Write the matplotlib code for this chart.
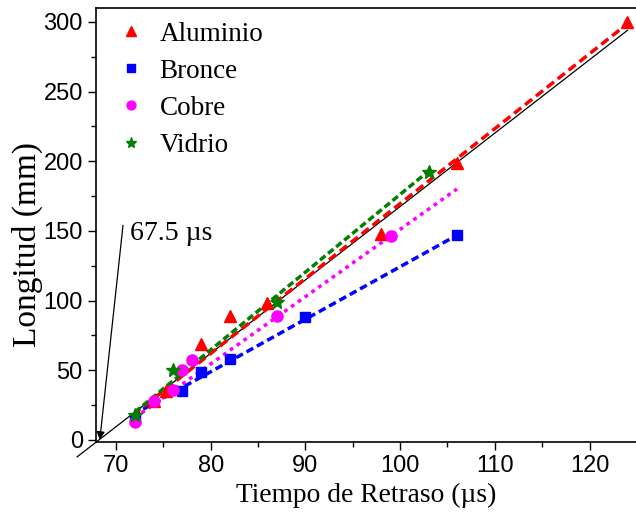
import matplotlib
matplotlib.use("Agg")
import matplotlib.pyplot as plt
import numpy as np
from matplotlib.ticker import MultipleLocator

# Data
alu_x = [74, 75.3, 79, 82, 86, 98, 106, 124]
alu_y = [28, 35, 69, 89, 98, 148, 199, 300]
bro_x = [72, 77, 79, 82, 90, 106]
bro_y = [15, 35, 49, 58, 88, 147]
cob_x = [72, 74, 76, 77, 78, 87, 99]
cob_y = [13, 28, 36, 50, 57, 89, 146]
vid_x = [72, 76, 87, 103]
vid_y = [18, 50, 99, 192]

# Linear fits: slope, intercept, x range
fit_alu = (5.38, -368.4, 71.8, 124.0)
fit_bro = (3.77, -252.7, 71.8, 106.0)
fit_cob = (4.83, -331.9, 72.0, 106.0)
fit_vid = (5.58, -381.8, 72.0, 103.0)
ref_line = (5.27, -359.5, 65.9, 124.0)

series_names = ["Aluminio", "Bronce", "Cobre", "Vidrio"]
xticks = [70, 80, 90, 100, 110, 120]
yticks = [0, 50, 100, 150, 200, 250, 300]

fig = plt.figure(figsize=(6.36, 5.16), dpi=100)
ax = fig.add_axes([96/636, 74/516, 1 - 96/636, (442-8)/516])
ax.set_xlim(67.9, 124.9)
ax.set_ylim(-1.5, 310)

def fitline(p, **kw):
    m, b, x0, x1 = p
    xs = np.array([x0, x1])
    ax.plot(xs, m*xs + b, **kw)

# reference solid black line (extends outside axes)
fitline(ref_line, color="black", lw=0.9, clip_on=False, zorder=2)
fitline(fit_bro, color="#0000ff", lw=2.5, ls=(0, (2.2, 1.2)), zorder=3)
fitline(fit_cob, color="#ff00ff", lw=2.5, ls=(0, (1.1, 1.3)), zorder=3)
fitline(fit_alu, color="#ff0000", lw=2.5, ls=(0, (2.6, 1.4)), zorder=3)
fitline(fit_vid, color="#007f00", lw=2.5, ls=(0, (2.0, 1.0)), zorder=3)

ax.plot(alu_x, alu_y, ls="none", marker="^", color="#ff0000", ms=9, label=series_names[0], zorder=4, clip_on=False)
ax.plot(bro_x, bro_y, ls="none", marker="s", color="#0000ff", ms=7, label=series_names[1], zorder=4)
ax.plot(cob_x, cob_y, ls="none", marker="o", color="#ff00ff", ms=8, label=series_names[2], zorder=4)
ax.plot(vid_x, vid_y, ls="none", marker="*", color="#007f00", ms=10, label=series_names[3], zorder=4)

# annotation
ax.annotate("", xy=(68.3, 0), xytext=(70.75, 154),
            arrowprops=dict(arrowstyle="-|>", color="black", lw=0.9, mutation_scale=12,
                            shrinkA=0, shrinkB=0))
ax.text(71.45, 148.5, "67.5 µs", fontsize=20, family="Liberation Serif", va="center", ha="left")

ax.xaxis.set_major_locator(MultipleLocator(10))
ax.xaxis.set_minor_locator(MultipleLocator(5))
ax.yaxis.set_major_locator(MultipleLocator(50))
ax.yaxis.set_minor_locator(MultipleLocator(25))
ax.set_xticks(xticks)
ax.set_yticks(yticks)
ax.tick_params(which="major", direction="out", length=6, width=1, labelsize=17)
ax.tick_params(which="minor", direction="out", length=3.5, width=1)
for lab in ax.get_xticklabels() + ax.get_yticklabels():
    lab.set_family("Liberation Sans")
ax.spines["right"].set_visible(False)
for s in ["left", "bottom", "top"]:
    ax.spines[s].set_linewidth(1.2)

ax.set_xlabel("Tiempo de Retraso (µs)", fontsize=19.8, family="Liberation Serif", labelpad=4)
ax.set_ylabel("Longitud (mm)", fontsize=24, family="Liberation Serif")
ax.yaxis.set_label_coords(-0.098, 0.454)

leg = ax.legend(loc="upper left", bbox_to_anchor=(0.015, 1.0), frameon=False,
                prop={"family": "Liberation Serif", "size": 19.5},
                handletextpad=0.55, labelspacing=0.45, borderaxespad=0.1,
                handlelength=1.0, markerscale=0.8)

fig.savefig("out.png", dpi=100)
